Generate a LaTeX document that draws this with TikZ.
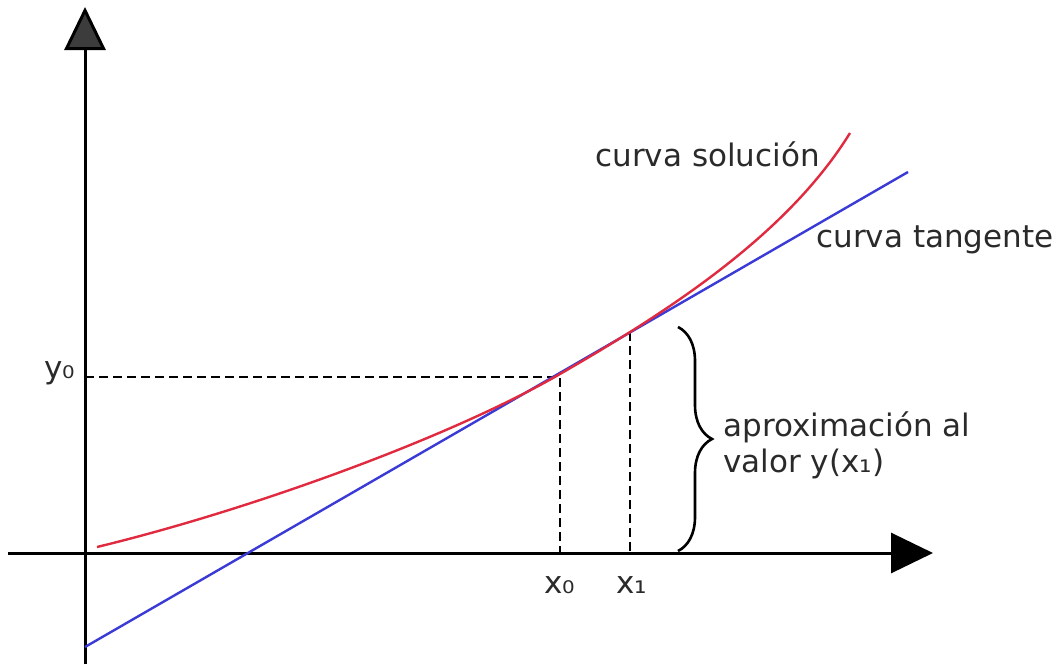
\documentclass[tikz,border=0pt]{standalone}
\usepackage{fontspec}
\setmainfont{DejaVu Sans}
\usetikzlibrary{arrows.meta,decorations.pathreplacing,positioning}
\definecolor{solred}{HTML}{E02A40}
\definecolor{tanblue}{HTML}{3A3AD6}
\definecolor{tipgray}{HTML}{3C3C3C}
\definecolor{textgray}{HTML}{2A2A2A}

\begin{document}
\begin{tikzpicture}[x=0.5pt,y=-0.5pt,
  axis/.style={line width=1.5pt},
  guide/.style={line width=1.1pt,dash pattern=on 4.5pt off 2.5pt},
  curve/.style={line width=1.2pt},
  lbl/.style={font=\fontsize{15.5}{19}\selectfont,text=textgray,inner sep=0pt}]
  \useasboundingbox (0,0) rectangle (1060,664);

  % axes
  \coordinate (xstart) at (8,553);
  \coordinate (xend) at (933,553);
  \coordinate (ystart) at (85,664);
  \coordinate (yend) at (85,7);
  \draw[axis,-{Triangle[length=21.5pt,width=20.5pt,fill=tipgray]}] (ystart) -- (yend);
  \draw[axis,-{Triangle[length=21pt,width=20pt]}] (xstart) -- (xend);

  % points
  \coordinate (p0) at (560,374);
  \coordinate (p1) at (630,332);
  \coordinate (corner) at (560,377);
  \coordinate (y0) at (85,377);
  \coordinate (x0) at (560,553);
  \coordinate (x1) at (630,553);

  % guides
  \draw[guide] (y0) -- (corner) -- (x0);
  \draw[guide] (p1) -- (x1);

  % tangent and solution
  \coordinate (tstart) at (85,647);
  \coordinate (tend) at (908,172);
  \draw[curve,tanblue] (tstart) -- (tend);
  \coordinate (sstart) at (97,547);
  \coordinate (send) at (850,133);
  \draw[curve,solred] (sstart) .. controls (250,510) and (450,437.5) .. (p0)
    .. controls (680,305) and (790,230) .. (send);

  % brace
  \coordinate (btop) at (678,327);
  \coordinate (bbot) at (678,551);
  \draw[line width=1.3pt,decorate,decoration={brace,amplitude=17pt}] (btop) -- (bbot);

  % labels
  \node[lbl,anchor=base] (ylab) at (60,378) {y₀};
  \node[lbl,anchor=base] (x0lab) at (560,593) {x₀};
  \node[lbl,anchor=base] (x1lab) at (632,593) {x₁};
  \node[lbl,anchor=base west] (sollab) at (595,166) {curva solución};
  \node[lbl,anchor=base west] (tanlab) at (816,247) {curva tangente};
  \node[lbl,anchor=base west] (aprox) at (723,436) {aproximación al};
  \node[lbl,anchor=base west] (valor) at ([yshift=-18pt]aprox.base west) {valor y(x₁)};
\end{tikzpicture}
\end{document}
